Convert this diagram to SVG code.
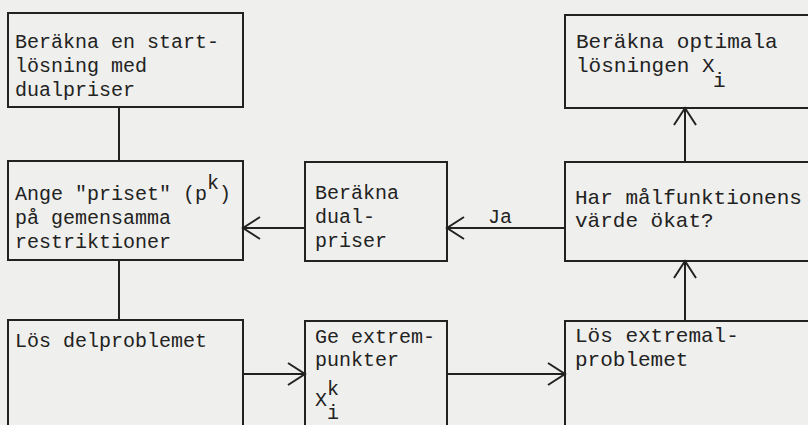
<svg xmlns="http://www.w3.org/2000/svg" width="808" height="425" viewBox="0 0 808 425">
<style>
.box{fill:none;stroke:#222;stroke-width:2}
.t{font-family:"Liberation Mono","Courier New",monospace;font-size:20px;fill:#222}
.r{font-size:21px}
.c{fill:none;stroke:#222;stroke-width:2}
</style>
<defs>
<marker id="ah" markerUnits="userSpaceOnUse" markerWidth="40" markerHeight="40" viewBox="-20 -20 40 40" refX="0" refY="0" orient="auto">
<path d="M-17,-11 L0,0 L-17,11" fill="none" stroke="#222" stroke-width="2"/>
</marker>
</defs>
<rect width="808" height="425" fill="#efefed"/>
<g id="n1">
<rect class="box" x="8" y="13" width="235" height="94"/>
<text class="t" x="15" y="48">Beräkna en start-</text>
<text class="t" x="15" y="72">lösning med</text>
<text class="t" x="15" y="96">dualpriser</text>
</g>
<g id="n2">
<rect class="box" x="8" y="161" width="235" height="99"/>
<text class="t" x="15" y="200">Ange "priset" (p<tspan dy="-11">k</tspan><tspan dy="11">)</tspan></text>
<text class="t" x="15" y="224">på gemensamma</text>
<text class="t" x="15" y="248">restriktioner</text>
</g>
<g id="n3">
<rect class="box" x="8" y="320" width="235" height="130"/>
<text class="t" x="15" y="347">Lös delproblemet</text>
</g>
<g id="n4">
<rect class="box" x="305" y="162" width="142" height="99"/>
<text class="t" x="315" y="199">Beräkna</text>
<text class="t" x="315" y="223">dual-</text>
<text class="t" x="315" y="247">priser</text>
</g>
<g id="n5">
<rect class="box" x="305" y="321" width="142" height="130"/>
<text class="t" x="315" y="343">Ge extrem-</text>
<text class="t" x="315" y="366">punkter</text>
<text class="t" x="315" y="406">X</text>
<text class="t" x="327" y="395">k</text>
<text class="t" x="327" y="419">i</text>
</g>
<g id="n6">
<rect class="box" x="565" y="15" width="260" height="93"/>
<text class="t r" x="576" y="48">Beräkna optimala</text>
<text class="t r" x="576" y="72">lösningen X</text>
<text class="t r" x="713" y="87">i</text>
</g>
<g id="n7">
<rect class="box" x="565" y="162" width="260" height="99"/>
<text class="t r" x="575" y="204">Har målfunktionens</text>
<text class="t r" x="575" y="227">värde ökat?</text>
</g>
<g id="n8">
<rect class="box" x="565" y="321" width="260" height="130"/>
<text class="t r" x="575" y="342">Lös extremal-</text>
<text class="t r" x="575" y="366">problemet</text>
</g>
<g id="connectors">
<line class="c" x1="119" y1="107" x2="119" y2="161"/>
<line class="c" x1="119" y1="260" x2="119" y2="320"/>
<line class="c" x1="243" y1="374" x2="305" y2="374" marker-end="url(#ah)"/>
<line class="c" x1="447" y1="374" x2="565" y2="374" marker-end="url(#ah)"/>
<line class="c" x1="685" y1="321" x2="685" y2="261" marker-end="url(#ah)"/>
<line class="c" x1="685" y1="162" x2="685" y2="108" marker-end="url(#ah)"/>
<line class="c" x1="565" y1="228" x2="447" y2="228" marker-end="url(#ah)"/>
<line class="c" x1="305" y1="228" x2="243" y2="228" marker-end="url(#ah)"/>
<text class="t" x="488" y="223">Ja</text>
</g>
</svg>
